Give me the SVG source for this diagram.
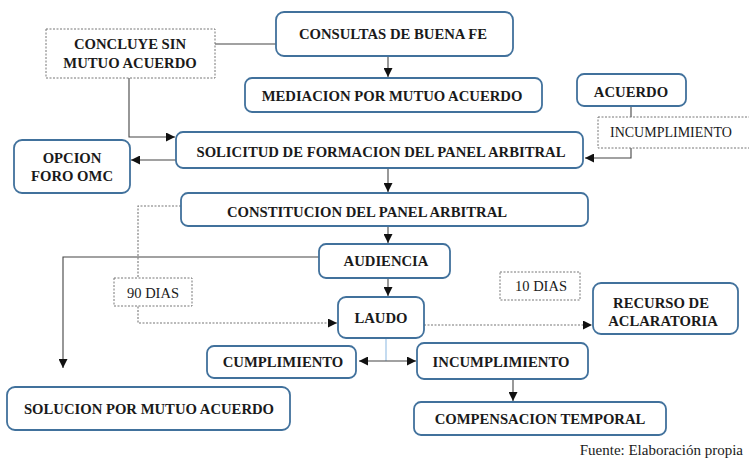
<svg xmlns="http://www.w3.org/2000/svg" width="749" height="461" viewBox="0 0 749 461" font-family="Liberation Serif, DejaVu Serif, serif">
<style>
.box{fill:#fff;stroke:#41719c;stroke-width:1.8}
.dot{fill:#fff;stroke:#777;stroke-width:1;stroke-dasharray:2 1.5}
.b{font-weight:bold;font-size:14.7px;fill:#1a1a1a;text-anchor:middle}
.r{font-size:14px;fill:#1a1a1a}
.ln{fill:none;stroke:#444;stroke-width:1.1}
.dl{fill:none;stroke:#777;stroke-width:1.1;stroke-dasharray:2 1.5}
</style>
<defs>
<marker id="ah" viewBox="0 0 10 10" refX="10" refY="5" markerUnits="userSpaceOnUse" markerWidth="9" markerHeight="9" orient="auto">
<path d="M0,0 L10,5 L0,10 z" fill="#111"/>
</marker>
<marker id="as" viewBox="0 0 10 10" refX="0" refY="5" markerUnits="userSpaceOnUse" markerWidth="9" markerHeight="9" orient="auto">
<path d="M10,0 L0,5 L10,10 z" fill="#111"/>
</marker>
</defs>
<rect width="749" height="461" fill="#fff"/>
<g id="connectors">
<path class="ln" d="M215,44 H276"/>
<path class="ln" d="M129,78 V137 H175" marker-end="url(#ah)"/>
<path class="ln" d="M176,160 H131" marker-end="url(#ah)"/>
<path class="ln" d="M388,56 V77" marker-end="url(#ah)"/>
<path class="ln" d="M631,106 V158 H585" marker-end="url(#ah)"/>
<path class="ln" d="M388,168 V192" marker-end="url(#ah)"/>
<path class="ln" d="M388,226 V243" marker-end="url(#ah)"/>
<path class="ln" d="M388,278 V296" marker-end="url(#ah)"/>
<path class="ln" d="M319,257 H63 V368" marker-end="url(#ah)"/>
<path class="dl" d="M181,206 H138 V323 H337" marker-end="url(#ah)"/>
<path class="dl" d="M424,325 H592" marker-end="url(#ah)"/>
<path fill="none" stroke="#9dc3e6" stroke-width="1.2" d="M386,338 V361"/>
<path class="ln" d="M359,361 H416" marker-start="url(#as)" marker-end="url(#ah)"/>
<path class="ln" d="M513,379 V401" marker-end="url(#ah)"/>
</g>
<g id="concluye">
<rect class="dot" x="46" y="29" width="169" height="49"/>
<text class="b" x="130" y="49">CONCLUYE SIN</text>
<text class="b" x="130" y="68">MUTUO ACUERDO</text>
</g>
<g id="consultas">
<rect class="box" x="276" y="12" width="237" height="44" rx="8"/>
<text class="b" x="393" y="39">CONSULTAS DE BUENA FE</text>
</g>
<g id="mediacion">
<rect class="box" x="245" y="78" width="297" height="34" rx="7"/>
<text class="b" x="392" y="101">MEDIACION POR MUTUO ACUERDO</text>
</g>
<g id="acuerdo">
<rect class="box" x="577" y="74" width="109" height="32" rx="7"/>
<text class="b" x="631" y="97">ACUERDO</text>
</g>
<g id="incumplimiento-label">
<rect class="dot" x="598" y="117" width="162" height="31"/>
<text class="r" x="610" y="137">INCUMPLIMIENTO</text>
</g>
<g id="solicitud">
<rect class="box" x="176" y="132" width="407" height="36" rx="7"/>
<text class="b" x="381" y="157">SOLICITUD DE FORMACION DEL PANEL ARBITRAL</text>
</g>
<g id="opcion">
<rect class="box" x="14" y="140" width="116" height="53" rx="8"/>
<text class="b" x="72" y="163">OPCION</text>
<text class="b" x="72" y="181">FORO OMC</text>
</g>
<g id="constitucion">
<rect class="box" x="181" y="193" width="407" height="33" rx="7"/>
<text class="b" x="367" y="217">CONSTITUCION DEL PANEL ARBITRAL</text>
</g>
<g id="audiencia">
<rect class="box" x="319" y="244" width="131" height="34" rx="7"/>
<text class="b" x="386" y="266">AUDIENCIA</text>
</g>
<g id="dias90">
<rect class="dot" x="114" y="278" width="78" height="28"/>
<text class="r" x="127" y="298" style="font-size:14.5px">90 DIAS</text>
</g>
<g id="dias10">
<rect class="dot" x="500" y="272" width="80" height="28"/>
<text class="r" x="515" y="291" style="font-size:14.5px">10 DIAS</text>
</g>
<g id="laudo">
<rect class="box" x="338" y="297" width="86" height="41" rx="8"/>
<text class="b" x="381" y="323">LAUDO</text>
</g>
<g id="recurso">
<rect class="box" x="593" y="283" width="145" height="51" rx="8"/>
<text class="b" x="661" y="308">RECURSO DE</text>
<text class="b" x="663" y="326">ACLARATORIA</text>
</g>
<g id="cumplimiento">
<rect class="box" x="207" y="346" width="149" height="32" rx="7"/>
<text class="b" x="283" y="367">CUMPLIMIENTO</text>
</g>
<g id="incumplimiento">
<rect class="box" x="417" y="343" width="171" height="36" rx="7"/>
<text class="b" x="501" y="367">INCUMPLIMIENTO</text>
</g>
<g id="solucion">
<rect class="box" x="7" y="387" width="283" height="43" rx="8"/>
<text class="b" x="149" y="414">SOLUCION POR MUTUO ACUERDO</text>
</g>
<g id="compensacion">
<rect class="box" x="414" y="402" width="252" height="33" rx="7"/>
<text class="b" x="540" y="424">COMPENSACION TEMPORAL</text>
</g>
<text class="r" x="743" y="455" style="font-size:15px;text-anchor:end">Fuente: Elaboración propia</text>
</svg>
